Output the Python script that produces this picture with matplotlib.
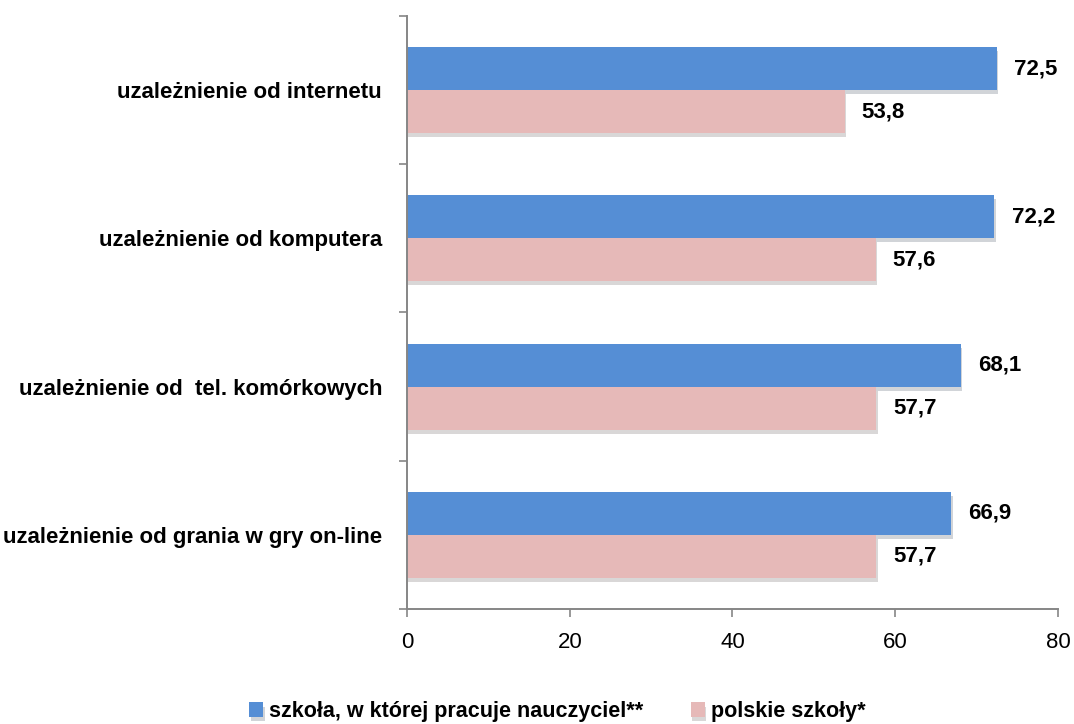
import matplotlib
matplotlib.use('Agg')
import matplotlib.pyplot as plt
import matplotlib.patheffects as pe
import numpy as np

# dane
kategorie = ['uzależnienie od internetu', 'uzależnienie od komputera',
             'uzależnienie od  tel. komórkowych', 'uzależnienie od grania w gry on-line']
szkola = [72.5, 72.2, 68.1, 66.9]
polskie = [53.8, 57.6, 57.7, 57.7]
serie = ['szkoła, w której pracuje nauczyciel**', 'polskie szkoły*']
x_ticks = [0, 20, 40, 60, 80]

plt.rcParams['font.family'] = ['Liberation Sans Narrow', 'Liberation Sans', 'DejaVu Sans']

fig = plt.figure(figsize=(10.74, 7.24), dpi=100)
ax = fig.add_axes([0.379, 0.159, 0.606, 0.819])

y = np.arange(len(kategorie))
h = 0.29
cien = [pe.SimplePatchShadow(offset=(1, -3), alpha=0.2), pe.Normal()]
b1 = ax.barh(y - h / 2, szkola, height=h, color='#558ED5', label=serie[0])
b2 = ax.barh(y + h / 2, polskie, height=h, color='#E6B9B8', label=serie[1])
for b in list(b1) + list(b2):
    b.set_path_effects(cien)

# etykiety wartości
for i in range(len(kategorie)):
    ax.text(szkola[i] + 2.1, y[i] - h / 2, f'{szkola[i]:.1f}'.replace('.', ','),
            va='center', ha='left', fontsize=16, fontweight='bold')
    ax.text(polskie[i] + 2.1, y[i] + h / 2, f'{polskie[i]:.1f}'.replace('.', ','),
            va='center', ha='left', fontsize=16, fontweight='bold')

ax.set_xlim(0, 80)
ax.set_ylim(3.5, -0.5)
ax.set_xticks(x_ticks)
ax.set_xticklabels([str(t) for t in x_ticks], fontsize=16)
ax.set_yticks(y)
ax.set_yticklabels(kategorie, fontsize=16, fontweight='bold')
ax.set_yticks(np.arange(-0.5, len(kategorie)), minor=True)
ax.tick_params(axis='y', which='major', length=0, pad=18)
ax.tick_params(axis='y', which='minor', length=6, width=1.2, color='#868686')
ax.tick_params(axis='x', length=6, width=1.2, color='#868686', pad=11)

for s in ['top', 'right']:
    ax.spines[s].set_visible(False)
for s in ['left', 'bottom']:
    ax.spines[s].set_color('#868686')
    ax.spines[s].set_linewidth(1.4)

fig.legend(handles=[b1, b2], labels=serie, loc='center', bbox_to_anchor=(0.519, 0.017),
           ncol=2, frameon=False, borderpad=0, handlelength=0.65, handleheight=0.65,
           handletextpad=0.28, columnspacing=2.2, prop={'size': 15.5, 'weight': 'bold'})

plt.savefig('out.png', dpi=100)
plt.close()
